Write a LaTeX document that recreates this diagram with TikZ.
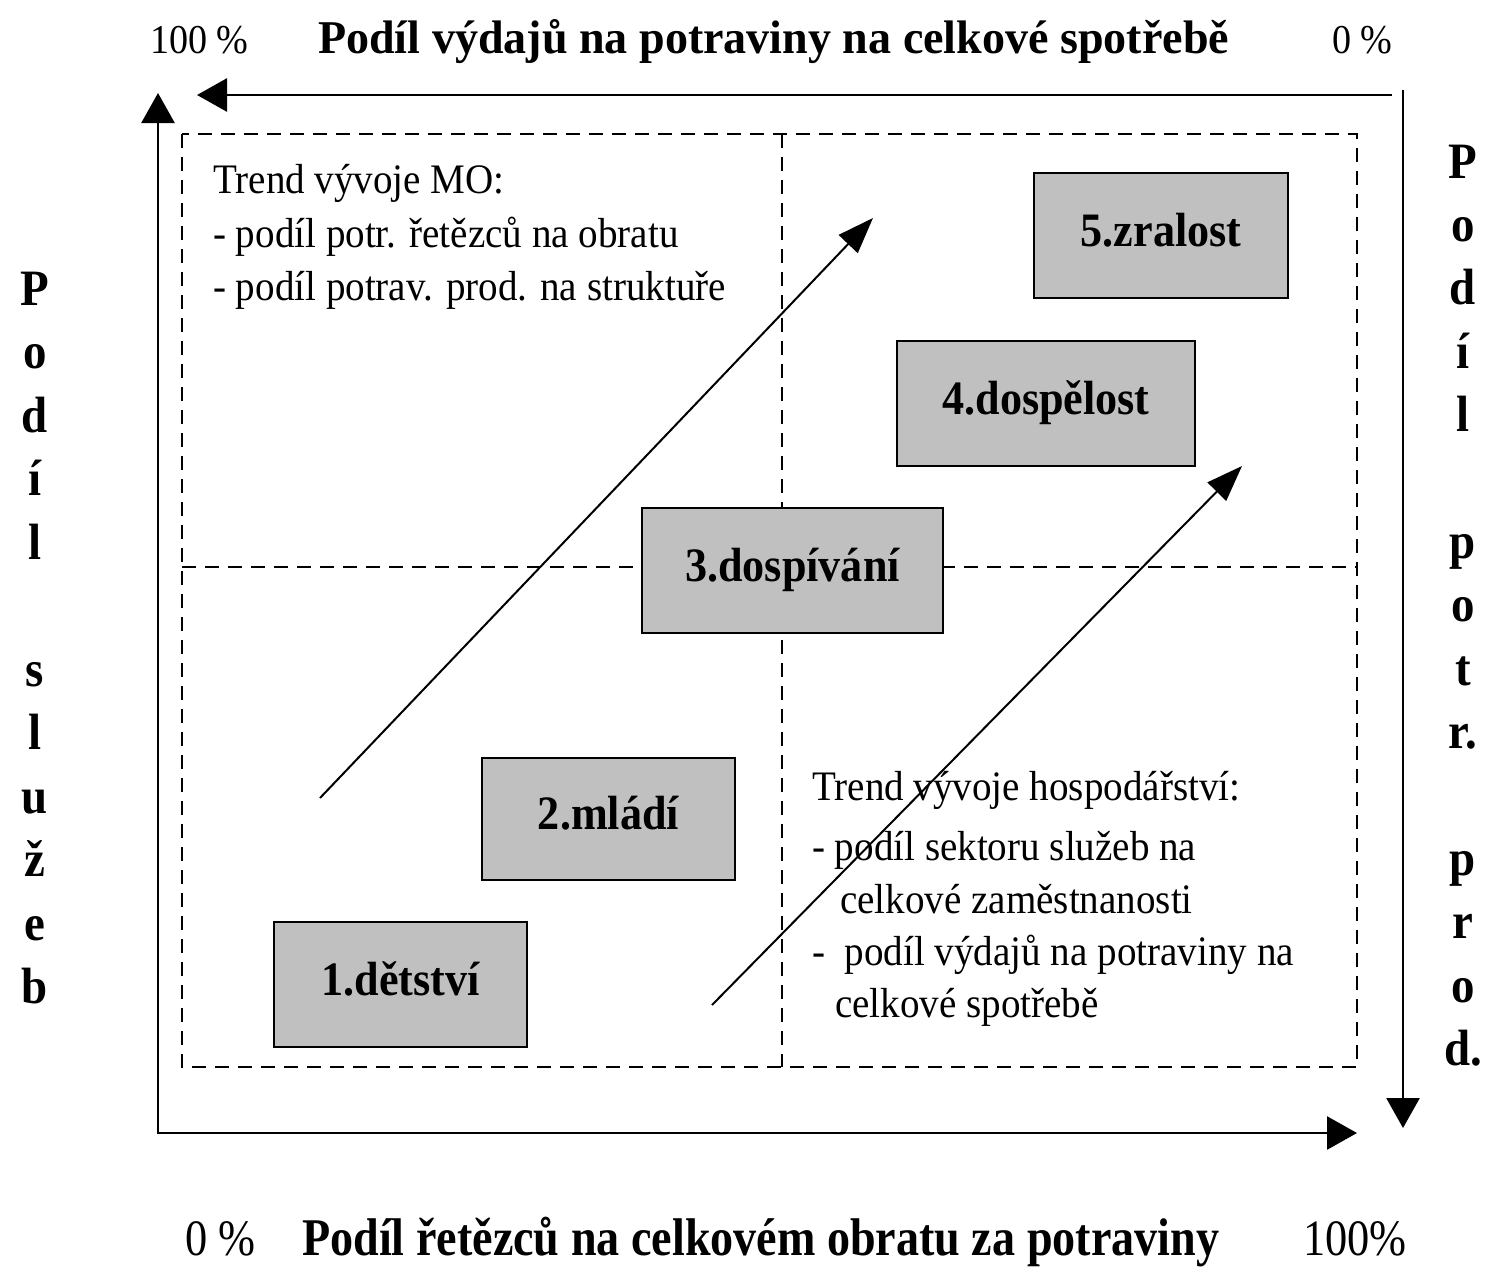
\documentclass[tikz,border=0pt]{standalone}
\usepackage{fontspec}
\setmainfont{Liberation Serif}
\newfontfamily\bodyf[FakeStretch=0.93]{Liberation Serif}
\newfontfamily\boldf[FakeStretch=0.92]{Liberation Serif}
\newfontfamily\titlef[FakeStretch=0.98]{Liberation Serif}
\newfontfamily\bottomf[FakeStretch=0.87]{Liberation Serif}
\usetikzlibrary{arrows.meta}
\tikzset{
  AxTip/.tip={Triangle[length=30pt,width=33pt]},
  DgTip/.tip={Triangle[length=36pt,width=26pt]},
}
\definecolor{gray75}{HTML}{C0C0C0}
\begin{document}
\begin{tikzpicture}[x=1pt,y=-1pt,
  body/.style={anchor=base west, inner sep=0pt, font={\bodyf\fontsize{42}{50}\selectfont}},
  pct/.style={anchor=base west, inner sep=0pt, font={\bodyf\fontsize{41}{50}\selectfont}},
  toptitle/.style={anchor=base west, inner sep=0pt, font={\titlef\bfseries\fontsize{47}{56}\selectfont}},
  bottitle/.style={anchor=base west, inner sep=0pt, font={\bottomf\bfseries\fontsize{53}{60}\selectfont}},
  botpct/.style={anchor=base west, inner sep=0pt, font={\bottomf\fontsize{51}{60}\selectfont}},
  vletter/.style={anchor=base, inner sep=0pt, font={\boldf\bfseries\fontsize{51}{60}\selectfont}},
  stage/.style={draw=black, line width=2.5pt, fill=gray75, minimum width=#1, minimum height=125pt,
    inner sep=0pt, text height=33pt, text depth=12pt, font={\boldf\bfseries\fontsize{48}{56}\selectfont}},
  axisline/.style={line width=2.7pt, line join=miter},
  diag/.style={line width=2pt, -DgTip},
  grid/.style={line width=2pt, dash pattern=on 14pt off 9pt},
]
% canvas
\fill[white] (0,0) rectangle (1489,1267);
\useasboundingbox (0,0) rectangle (1489,1267);

% dashed quadrants
\draw[grid] (182,134) rectangle (1357,1067);
\draw[grid] (782,134) -- (782,1067);
\draw[grid] (182,567) -- (1357,567);

% axes
\coordinate (O) at (158,1133);
\coordinate (ytip) at (158,93);
\coordinate (xtip) at (1357,1133);
\coordinate (tstart) at (1392,95);
\coordinate (ttip) at (197,95);
\coordinate (rstart) at (1403,90);
\coordinate (rtip) at (1403,1128);
\draw[axisline, AxTip-AxTip] (ytip) -- (O) -- (xtip);
\draw[axisline, -AxTip] (tstart) -- (ttip);
\draw[axisline, -AxTip] (rstart) -- (rtip);

% top labels
\node[pct] (p100top) at (150,53) {100 \%};
\node[toptitle] (ttitle) at (318,53) {Podíl výdajů na potraviny na celkové spotřebě};
\node[pct] (p0top) at (1332,53) {0 \%};

% bottom labels
\node[botpct] (p0bot) at (185,1255) {0 \%};
\node[bottitle] (btitle) at (302,1255) {Podíl řetězců na celkovém obratu za potraviny};
\node[botpct] (p100bot) at (1303,1255) {100\%};

% left vertical label
\foreach \ch [count=\i] in {P,o,d,í,l,{},s,l,u,ž,e,b}
  \node[vletter] (L\i) at (35,{305+63.5*(\i-1)}) {\ch};
% right vertical label
\foreach \ch [count=\i] in {P,o,d,í,l,{},p,o,t,r.,{},p,r,o,d.}
  \node[vletter] (R\i) at (1463,{178+63.4*(\i-1)}) {\ch};

% text blocks
\node[body] (mo1) at (213,193) {Trend vývoje MO:};
\node[body] (mo2) at (213,247) {- podíl potr. řetězců na obratu};
\node[body] (mo3) at (213,300) {- podíl potrav. prod. na struktuře};

\node[body] (h1) at (812,800) {Trend vývoje hospodářství:};
\node[body] (h2) at (812,860) {- podíl sektoru služeb na};
\node[body] (h3) at (840,913) {celkové zaměstnanosti};
\node[body] (h4) at (812,965) {-\ \ podíl výdajů na potraviny na};
\node[body] (h5) at (835,1017) {celkové spotřebě};

% stage boxes
\node[stage=253pt, minimum height=125pt] (s1) at (400.5,984.5) {1.dětství};
\node[stage=253pt, minimum height=122pt] (s2) at (608.5,819) {2.mládí};
\node[stage=301pt] (s3) at (792.5,570.5) {3.dospívání};
\node[stage=298pt] (s4) at (1046,403.5) {4.dospělost};
\node[stage=254pt] (s5) at (1161,235.5) {5.zralost};

% trend arrows
\coordinate (a1s) at (320,798);
\coordinate (a1e) at (873,218);
\coordinate (a2s) at (712,1005);
\coordinate (a2e) at (1242,466);
\draw[diag] (a1s) -- (a1e);
\draw[diag] (a2s) -- (a2e);
\end{tikzpicture}
\end{document}
